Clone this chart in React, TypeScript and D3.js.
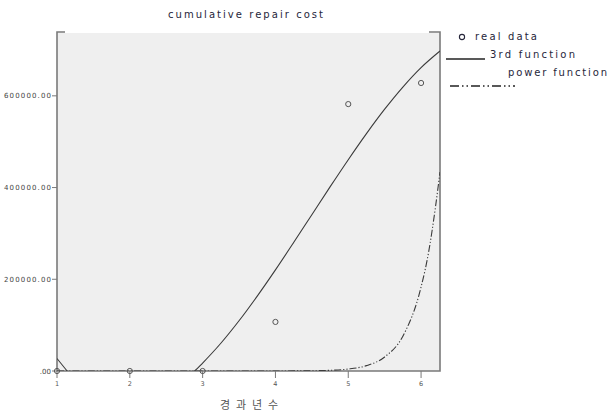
import React from "react";
import * as d3 from "d3";

// Observed data (years elapsed vs cumulative repair cost)
const years = [1, 2, 3, 4, 5, 6];
const realCost = [0, 0, 0, 107000, 582000, 628000];

// Fitted cubic ("3rd function") curve
const cubicX = [1, 1.14, 1.25, 1.5, 2, 2.5, 2.89, 3, 3.25, 3.5, 3.75, 4, 4.25, 4.5, 4.75, 5, 5.25, 5.5, 5.75, 6, 6.26];
const cubicY = [27300, 0, -19600, -51100, -72500, -46600, 0, 17300, 60500, 109500, 163300, 220500, 280100, 340800, 401400, 460700, 517600, 570900, 619200, 661600, 697800];

// Fitted power function curve
const powerX = [1, 3, 4, 4.5, 4.75, 5, 5.25, 5.5, 5.75, 6, 6.1, 6.2, 6.26];
const powerY = [0, 0, 50, 500, 1500, 4300, 11700, 30600, 76000, 183000, 256000, 360000, 434000];

const xTicks = [1, 2, 3, 4, 5, 6];
const yTicks = [0, 200000, 400000, 600000];
const yTickLabels = [".00", "200000.00", "400000.00", "600000.00"];

const title = "cumulative repair cost";
const xTitle = "경과년수";
const legendLabels = ["real data", "3rd function", "power function"];

export default function App() {
  const W = 610, H = 417;
  const left = 57, right = 440, top = 33, bottom = 371;
  const x = d3.scaleLinear().domain([1, 6.26]).range([left, right]);
  const y = d3.scaleLinear().domain([0, 737000]).range([bottom, top]);

  const cubicLine = d3
    .line<number>()
    .x((_, i) => x(cubicX[i]))
    .y((d) => y(d))
    .curve(d3.curveCatmullRom);
  const powerLine = d3
    .line<number>()
    .x((_, i) => x(powerX[i]))
    .y((d) => y(d))
    .curve(d3.curveMonotoneX);

  const font = "'DejaVu Sans', Verdana, sans-serif";
  const txt = "#26263a";
  const axisCol = "#7a7a7a";
  const lineCol = "#3a3a3a";

  return (
    <svg width={W} height={H} style={{ position: "absolute", left: 0, top: 0, background: "#fff" }}>
      <defs>
        <clipPath id="plotclip">
          <rect x={left} y={top} width={right - left} height={bottom - top} />
        </clipPath>
      </defs>
      {/* title */}
      <text x={168} y={18} fontFamily={font} fontSize={10} fill={txt} textLength={155} lengthAdjust="spacing">
        {title}
      </text>
      {/* plot background */}
      <rect x={left} y={top} width={right - left} height={bottom - top} fill="#efefef" />
      {/* frame */}
      <path
        d={`M${left + 8},${top - 1}H${left}V${bottom}H${right}V${top - 1}H${right - 11}`}
        fill="none"
        stroke={axisCol}
        strokeWidth={1.6}
      />
      {/* y ticks */}
      {yTicks.map((t, i) => (
        <g key={"y" + i}>
          <line x1={left - 5} x2={left} y1={y(t)} y2={y(t)} stroke={axisCol} strokeWidth={1} />
          <text
            x={left - 6}
            y={y(t) + 2.5}
            textAnchor="end"
            fontFamily={font}
            fontSize={7}
            fill="#444"
            {...(yTickLabels[i].length > 3 ? { textLength: 47, lengthAdjust: "spacing" } : {})}
          >
            {yTickLabels[i]}
          </text>
        </g>
      ))}
      {/* x ticks */}
      {xTicks.map((t) => (
        <g key={"x" + t}>
          <line x1={x(t)} x2={x(t)} y1={bottom} y2={bottom + 7} stroke={axisCol} strokeWidth={1} />
          <text x={x(t)} y={bottom + 15} textAnchor="middle" fontFamily={font} fontSize={6.5} fill="#555">
            {t}
          </text>
        </g>
      ))}
      {/* curves */}
      <g clipPath="url(#plotclip)">
        <path d={cubicLine(cubicY) || ""} fill="none" stroke={lineCol} strokeWidth={1.1} />
        <path
          d={powerLine(powerY) || ""}
          fill="none"
          stroke={lineCol}
          strokeWidth={1.1}
          strokeDasharray="7,2,1.2,2,1.2,2"
        />
      </g>
      {/* real data points */}
      {years.map((yr, i) => (
        <circle key={"p" + i} cx={x(yr)} cy={y(realCost[i])} r={2.6} fill="none" stroke="#555" strokeWidth={1} />
      ))}
      {/* x title */}
      <text x={220} y={409} fontFamily="'Noto Sans CJK KR', sans-serif" fontSize={11} fill="#555" textLength={58} lengthAdjust="spacing">
        {xTitle}
      </text>
      {/* legend */}
      <circle cx={462} cy={37} r={2.6} fill="none" stroke={txt} strokeWidth={1.1} />
      <text x={475} y={40} fontFamily={font} fontSize={10} fill={txt} textLength={62} lengthAdjust="spacing">
        {legendLabels[0]}
      </text>
      <line x1={446} x2={485} y1={59} y2={59} stroke="#222" strokeWidth={1.4} />
      <text x={490} y={58} fontFamily={font} fontSize={10} fill={txt} textLength={85} lengthAdjust="spacing">
        {legendLabels[1]}
      </text>
      <text x={508} y={76} fontFamily={font} fontSize={10} fill={txt} textLength={99} lengthAdjust="spacing">
        {legendLabels[2]}
      </text>
      <line x1={450} x2={515} y1={86} y2={86} stroke="#222" strokeWidth={1.6} strokeDasharray="9,3,1.5,3,1.5,3" />
    </svg>
  );
}
